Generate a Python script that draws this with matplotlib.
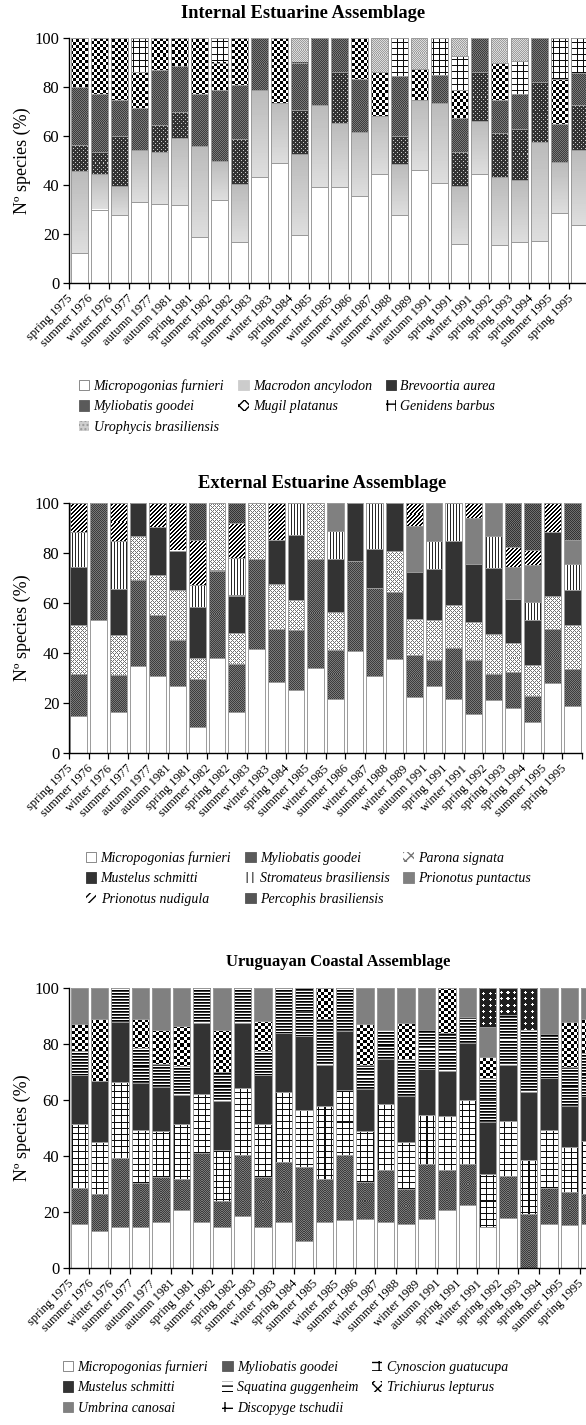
import numpy as np
import matplotlib
matplotlib.use("Agg")
import matplotlib.pyplot as plt
from matplotlib.patches import Patch
from matplotlib.font_manager import FontProperties
from matplotlib.transforms import ScaledTranslation

plt.rcParams["font.family"] = ["Liberation Serif", "DejaVu Serif"]
plt.rcParams["hatch.linewidth"] = 1.0

seasons = ["spring 1975", "summer 1976", "winter 1976", "summer 1977", "autumn 1977",
           "autumn 1981", "spring 1981", "summer 1982", "spring 1982", "summer 1983",
           "winter 1983", "spring 1984", "summer 1985", "winter 1985", "summer 1986",
           "winter 1987", "summer 1988", "winter 1989", "autumn 1991", "spring 1991",
           "winter 1991", "spring 1992", "spring 1993", "spring 1994", "summer 1995",
           "spring 1995"]

# ---- Internal Estuarine Assemblage (% of species) ----
int_micropogonias = [12.3, 30.0, 27.8, 32.9, 32.3, 32.0, 18.8, 33.8, 16.9, 43.2, 49.1, 19.4, 39.0,
                     39.3, 35.5, 44.5, 27.6, 46.0, 40.9, 15.8, 44.5, 15.7, 16.9, 17.2, 28.6, 23.7]
int_macrodon = [33.4, 14.6, 11.9, 21.5, 21.2, 27.0, 37.2, 16.0, 23.6, 35.4, 24.2, 33.4, 33.7,
                26.0, 26.2, 23.8, 21.1, 28.8, 32.4, 23.9, 21.8, 27.7, 25.1, 40.5, 20.8, 30.6]
int_brevoortia = [10.6, 8.7, 20.3, 0, 10.8, 10.8, 0, 0, 18.3, 0, 0, 17.9, 0,
                  20.7, 0, 0, 11.3, 0, 0, 13.9, 19.7, 17.9, 20.9, 24.2, 0, 18.3]
int_myliobatis = [23.7, 23.7, 14.8, 17.2, 22.5, 18.6, 21.2, 28.8, 22.0, 21.4, 0, 19.3, 27.3,
                  14.0, 21.7, 0, 24.6, 0, 11.7, 13.9, 14.0, 13.2, 14.3, 18.1, 15.5, 13.2]
int_mugil = [20.0, 23.0, 25.2, 14.4, 13.2, 11.6, 22.8, 11.4, 19.2, 0, 26.7, 0, 0,
             0, 16.6, 17.7, 0, 12.4, 0, 11.1, 0, 15.1, 0, 0, 18.3, 0]
int_genidens = [0, 0, 0, 14.0, 0, 0, 0, 10.0, 0, 0, 0, 0, 0,
                0, 0, 0, 15.4, 0, 15.0, 13.9, 0, 0, 13.5, 0, 16.8, 14.2]
int_urophycis = [0, 0, 0, 0, 0, 0, 0, 0, 0, 0, 0, 10.0, 0,
                 0, 0, 14.0, 0, 12.8, 0, 7.5, 0, 10.4, 9.3, 0, 0, 0]

# ---- External Estuarine Assemblage (% of species) ----
ext_micropogonias = [14.7, 53.3, 16.3, 34.9, 30.9, 26.9, 10.5, 38.0, 16.3, 41.7, 28.5, 25.0, 34.0,
                     21.6, 40.7, 30.7, 37.7, 22.3, 26.9, 21.6, 15.7, 21.1, 17.9, 12.4, 27.9, 18.8]
ext_myliobatis = [17.0, 46.7, 15.0, 34.4, 24.4, 18.4, 19.2, 35.0, 19.4, 36.0, 21.2, 24.0, 43.7,
                  19.7, 36.0, 35.2, 26.8, 17.0, 10.2, 20.5, 21.4, 10.4, 14.6, 10.5, 21.7, 14.9]
ext_parona = [19.3, 0, 15.7, 17.4, 16.0, 20.0, 8.4, 27.0, 12.4, 22.3, 18.0, 12.3, 22.3,
              15.2, 0, 0, 16.2, 14.4, 16.2, 17.2, 15.4, 16.0, 11.4, 12.4, 13.1, 17.6]
ext_mustelus = [23.3, 0, 18.7, 13.3, 19.1, 15.7, 20.4, 0, 14.9, 0, 17.6, 26.0, 0,
                21.2, 23.3, 15.8, 19.3, 18.8, 20.4, 25.6, 23.1, 26.6, 17.8, 18.0, 25.8, 14.0]
ext_stromateus = [14.1, 0, 19.0, 0, 0, 0, 8.8, 0, 15.0, 0, 0, 12.7, 0,
                  11.0, 0, 18.3, 0, 0, 11.3, 15.1, 0, 12.6, 0, 7.0, 0, 10.4]
ext_puntactus = [0, 0, 0, 0, 0, 0, 0, 0, 0, 0, 0, 0, 0,
                 11.3, 0, 0, 0, 18.2, 15.0, 0, 18.4, 13.3, 12.6, 14.8, 0, 9.6]
ext_nudigula = [11.6, 0, 15.3, 0, 9.6, 19.0, 18.0, 0, 14.0, 0, 14.7, 0, 0,
                0, 0, 0, 0, 9.3, 0, 0, 6.0, 0, 8.0, 6.2, 11.5, 0]
ext_percophis = [0, 0, 0, 0, 0, 0, 14.7, 0, 8.0, 0, 0, 0, 0,
                 0, 0, 0, 0, 0, 0, 0, 0, 0, 17.7, 18.7, 0, 14.7]

# ---- Uruguayan Coastal Assemblage (% of species) ----
cst_micropogonias = [15.8, 13.3, 14.6, 14.6, 16.3, 20.8, 16.4, 14.6, 18.4, 14.8, 16.6, 9.7, 16.4,
                     17.2, 17.6, 16.5, 15.7, 17.6, 20.7, 22.6, 14.8, 17.9, 0, 15.6, 15.2, 15.8]
cst_myliobatis = [12.7, 13.1, 24.6, 15.7, 16.1, 10.9, 24.6, 9.2, 22.0, 17.6, 21.2, 26.4, 15.3,
                  23.2, 13.0, 18.4, 12.6, 19.5, 14.3, 14.7, 0, 14.9, 19.2, 12.9, 11.9, 10.6]
cst_cynoscion = [23.0, 18.7, 27.3, 19.0, 16.6, 19.8, 21.1, 18.5, 23.9, 19.1, 25.1, 20.3, 26.3,
                 23.3, 18.4, 23.7, 16.8, 17.5, 19.3, 22.8, 18.6, 19.8, 19.2, 20.9, 16.0, 19.0]
cst_mustelus = [17.4, 21.8, 21.4, 16.9, 15.5, 10.3, 25.4, 17.4, 23.2, 17.4, 21.1, 26.4, 14.4,
                21.0, 15.1, 16.2, 16.3, 16.3, 16.1, 20.4, 18.9, 19.8, 24.5, 18.4, 14.7, 16.0]
cst_squatina = [8.5, 0, 12.1, 12.2, 8.5, 10.3, 12.5, 10.4, 12.5, 8.5, 16.0, 17.2, 16.4,
                15.3, 8.3, 10.1, 13.4, 14.0, 13.6, 9.2, 15.4, 17.9, 22.0, 15.6, 14.1, 15.4]
cst_trichiurus = [9.9, 21.9, 0, 10.4, 11.9, 14.4, 0, 14.8, 0, 10.7, 0, 0, 11.2,
                  0, 14.9, 0, 12.7, 0, 16.0, 0, 7.7, 0, 0, 0, 15.8, 12.0]
cst_umbrina = [12.7, 11.2, 0, 11.2, 15.1, 13.5, 0, 15.1, 0, 11.9, 0, 0, 0,
               0, 12.7, 15.1, 12.5, 15.1, 0, 10.3, 10.7, 0, 0, 16.6, 12.3, 11.2]
cst_discopyge = [0, 0, 0, 0, 0, 0, 0, 0, 0, 0, 0, 0, 0,
                 0, 0, 0, 0, 0, 0, 0, 13.9, 9.7, 15.1, 0, 0, 0]


# ---- pixel fill textures (gray levels 0..1) ----
def _checker(n=3):
    i, j = np.indices((2 * n, 2 * n))
    return ((i // n + j // n) % 2).astype(float)


def _grid(n=6):
    t = np.ones((n, n))
    t[0, :] = 0.05
    t[:, 0] = 0.05
    return t


def _dither(a, b):
    return np.array([[a, b], [b, a]])


def _dots(base, dot):
    t = np.full((4, 4), base)
    t[0, 0] = dot
    t[2, 2] = dot
    return t


def _stripes():
    i, j = np.indices((4, 4))
    return np.where(((i + j) % 4) < 2, 0.0, 1.0)


def _cross(n=4, v=0.45):
    i, j = np.indices((n, n))
    return np.where(((i - j) % n == 0) | ((i + j) % n == 0), v, 1.0)


def _plus():
    t = np.full((6, 6), 0.12)
    for (r, c) in [(2, 3), (3, 2), (3, 3), (3, 4), (4, 3)]:
        t[r, c] = 1.0
    return t


STYLES = {
    "Micropogonias furnieri": dict(kind="solid", color="white"),
    "Macrodon ancylodon": dict(kind="gradient", top=0.73, bottom=0.87),
    "Brevoortia aurea": dict(kind="tile", tile=_dots(0.2, 0.8)),
    "Myliobatis goodei": dict(kind="tile", tile=_dither(0.24, 0.48)),
    "Mugil platanus": dict(kind="tile", tile=_checker()),
    "Genidens barbus": dict(kind="tile", tile=_grid()),
    "Urophycis brasiliensis": dict(kind="tile", tile=_dither(0.62, 0.86)),
    "Parona signata": dict(kind="tile", tile=_cross()),
    "Mustelus schmitti": dict(kind="solid", color="#333333"),
    "Stromateus brasiliensis": dict(kind="tile", tile=np.array([[0.15, 1.0, 1.0]])),
    "Prionotus puntactus": dict(kind="solid", color="#808080"),
    "Prionotus nudigula": dict(kind="tile", tile=_stripes()),
    "Percophis brasiliensis": dict(kind="tile", tile=_dither(0.2, 0.44)),
    "Cynoscion guatucupa": dict(kind="tile", tile=_grid()),
    "Squatina guggenheim": dict(kind="tile", tile=np.array([[0.0], [0.25], [1.0]])),
    "Trichiurus lepturus": dict(kind="tile", tile=_checker()),
    "Umbrina canosai": dict(kind="solid", color="#808080"),
    "Discopyge tschudii": dict(kind="tile", tile=_plus()),
}

LEGEND_PATCH = {
    "Micropogonias furnieri": dict(facecolor="white", edgecolor="#777777", linewidth=0.6),
    "Macrodon ancylodon": dict(facecolor="#cccccc", edgecolor="#cccccc", linewidth=0.6),
    "Brevoortia aurea": dict(facecolor="#333333", edgecolor="#333333", linewidth=0.6),
    "Myliobatis goodei": dict(facecolor="#5a5a5a", edgecolor="#5a5a5a", linewidth=0.6),
    "Mugil platanus": dict(facecolor="white", edgecolor="black", linewidth=0, hatch="xxx"),
    "Genidens barbus": dict(facecolor="white", edgecolor="black", linewidth=0, hatch="++"),
    "Urophycis brasiliensis": dict(facecolor="#cfcfcf", edgecolor="#999999", linewidth=0, hatch="...."),
    "Parona signata": dict(facecolor="white", edgecolor="#777777", linewidth=0, hatch="xxx"),
    "Mustelus schmitti": dict(facecolor="#333333", edgecolor="#333333", linewidth=0.6),
    "Stromateus brasiliensis": dict(facecolor="white", edgecolor="#555555", linewidth=0, hatch="|||"),
    "Prionotus puntactus": dict(facecolor="#808080", edgecolor="#808080", linewidth=0.6),
    "Prionotus nudigula": dict(facecolor="white", edgecolor="black", linewidth=0, hatch="////"),
    "Percophis brasiliensis": dict(facecolor="#555555", edgecolor="#555555", linewidth=0.6),
    "Cynoscion guatucupa": dict(facecolor="white", edgecolor="black", linewidth=0, hatch="++"),
    "Squatina guggenheim": dict(facecolor="white", edgecolor="black", linewidth=0, hatch="---"),
    "Trichiurus lepturus": dict(facecolor="white", edgecolor="black", linewidth=0, hatch="xxx"),
    "Umbrina canosai": dict(facecolor="#808080", edgecolor="#808080", linewidth=0.6),
    "Discopyge tschudii": dict(facecolor="white", edgecolor="black", linewidth=0, hatch="+"),
}

BAR_W = 0.85
FIG_W, FIG_H = 586, 1425


def fill_texture(ax, x, y0, h, style):
    """Fill one stacked segment with a pixel-aligned pattern."""
    (px0, py0) = ax.transData.transform((x - BAR_W / 2, y0))
    (px1, py1) = ax.transData.transform((x + BAR_W / 2, y0 + h))
    nx = max(1, int(round(px1 - px0)))
    ny = max(1, int(round(py1 - py0)))
    top_row = int(round(FIG_H - py1))
    left_col = int(round(px0))
    if style["kind"] == "gradient":
        arr = np.linspace(style["top"], style["bottom"], ny)[:, None] * np.ones((1, nx))
    else:
        tile = style["tile"]
        rows = (np.arange(ny) + top_row) % tile.shape[0]
        cols = (np.arange(nx) + left_col) % tile.shape[1]
        arr = tile[np.ix_(rows, cols)]
    ax.imshow(arr, cmap="gray", vmin=0, vmax=1, origin="upper", aspect="auto",
              interpolation="nearest", extent=(x - BAR_W / 2, x + BAR_W / 2, y0, y0 + h),
              zorder=2)


def draw_panel(ax, species, series):
    n = len(seasons)
    x = np.arange(n)
    ax.set_xlim(-0.5, n - 0.5)
    ax.set_ylim(0, 100)
    bottom = np.zeros(n)
    for name, vals in zip(species, series):
        vals = np.asarray(vals, dtype=float)
        st = STYLES[name]
        keep = vals > 0
        if st["kind"] == "solid":
            ax.bar(x[keep], vals[keep], BAR_W, bottom=bottom[keep], color=st["color"],
                   linewidth=0, zorder=2)
        else:
            for xi, b, v in zip(x[keep], bottom[keep], vals[keep]):
                fill_texture(ax, xi, b, v, st)
        ax.bar(x[keep], vals[keep], BAR_W, bottom=bottom[keep], fill=False,
               edgecolor="#9a9a9a", linewidth=0.7, zorder=3)
        bottom += vals
    ax.set_xlim(-0.5, n - 0.5)
    ax.set_ylim(0, 100)

    for s in ("top", "right"):
        ax.spines[s].set_visible(False)
    for s in ("left", "bottom"):
        ax.spines[s].set_linewidth(1.0)
        ax.spines[s].set_zorder(4)
    ax.set_yticks(np.arange(0, 101, 20))
    ax.tick_params(axis="y", labelsize=12, length=4, width=0.9, pad=3)
    ax.set_xticks(np.arange(n + 1) - 0.5)
    ax.set_xticklabels([])
    ax.tick_params(axis="x", which="major", length=4, width=0.9)
    ax.set_xticks(x, labels=seasons, minor=True)
    ax.tick_params(axis="x", which="minor", length=0, pad=7, labelsize=9)
    shift = ScaledTranslation(-0.12, 0, ax.figure.dpi_scale_trans)
    for lab in ax.get_xticklabels(minor=True):
        lab.set_rotation(45)
        lab.set_ha("right")
        lab.set_rotation_mode("anchor")
        lab.set_transform(lab.get_transform() + shift)


def add_legend(fig, species, x_px, y_px, colspacing):
    order = []
    for c in range(3):
        order += list(range(c, len(species), 3))
    handles = [Patch(**LEGEND_PATCH[species[i]]) for i in order]
    labels = [species[i] for i in order]
    fig.legend(handles, labels, loc="upper left", ncol=3,
               bbox_to_anchor=(x_px / FIG_W, 1 - y_px / FIG_H), frameon=False,
               borderpad=0, borderaxespad=0, handlelength=0.75, handleheight=0.75,
               handletextpad=0.3, columnspacing=colspacing, labelspacing=0.55,
               prop=FontProperties(family="Liberation Serif", style="italic", size=10))


def place(fig, left, top, right, bottom):
    return fig.add_axes([left / FIG_W, 1 - bottom / FIG_H,
                         (right - left) / FIG_W, (bottom - top) / FIG_H])


fig = plt.figure(figsize=(FIG_W / 100, FIG_H / 100), dpi=100)

internal_species = ["Micropogonias furnieri", "Macrodon ancylodon", "Brevoortia aurea",
                    "Myliobatis goodei", "Mugil platanus", "Genidens barbus",
                    "Urophycis brasiliensis"]
external_species = ["Micropogonias furnieri", "Myliobatis goodei", "Parona signata",
                    "Mustelus schmitti", "Stromateus brasiliensis", "Prionotus puntactus",
                    "Prionotus nudigula", "Percophis brasiliensis"]
coastal_species = ["Micropogonias furnieri", "Myliobatis goodei", "Cynoscion guatucupa",
                   "Mustelus schmitti", "Squatina guggenheim", "Trichiurus lepturus",
                   "Umbrina canosai", "Discopyge tschudii"]

ax1 = place(fig, 69, 38, 589, 283)
draw_panel(ax1, internal_species,
           [int_micropogonias, int_macrodon, int_brevoortia, int_myliobatis,
            int_mugil, int_genidens, int_urophycis])
ax2 = place(fig, 69, 503, 582, 753)
draw_panel(ax2, external_species,
           [ext_micropogonias, ext_myliobatis, ext_parona, ext_mustelus,
            ext_stromateus, ext_puntactus, ext_nudigula, ext_percophis])
ax3 = place(fig, 69, 988, 600, 1268)
draw_panel(ax3, coastal_species,
           [cst_micropogonias, cst_myliobatis, cst_cynoscion, cst_mustelus,
            cst_squatina, cst_trichiurus, cst_umbrina, cst_discopyge])

fig.text(303 / FIG_W, 1 - 14 / FIG_H, "Internal Estuarine Assemblage", ha="center",
         va="center", fontsize=13.3, fontweight="bold")
fig.text(322 / FIG_W, 1 - 483 / FIG_H, "External Estuarine Assemblage", ha="center",
         va="center", fontsize=13.3, fontweight="bold")
fig.text(338 / FIG_W, 1 - 962 / FIG_H, "Uruguayan Coastal Assemblage", ha="center",
         va="center", fontsize=12, fontweight="bold")

for top, bot in [(38, 283), (503, 753), (988, 1268)]:
    fig.text(22 / FIG_W, 1 - (top + bot) / 2 / FIG_H, "Nº species (%)", rotation=90,
             ha="center", va="center", fontsize=13)

add_legend(fig, internal_species, 79, 379, 1.0)
add_legend(fig, external_species, 86, 851, 1.0)
add_legend(fig, coastal_species, 63, 1360, 1.0)

fig.savefig("out.png", dpi=100)
